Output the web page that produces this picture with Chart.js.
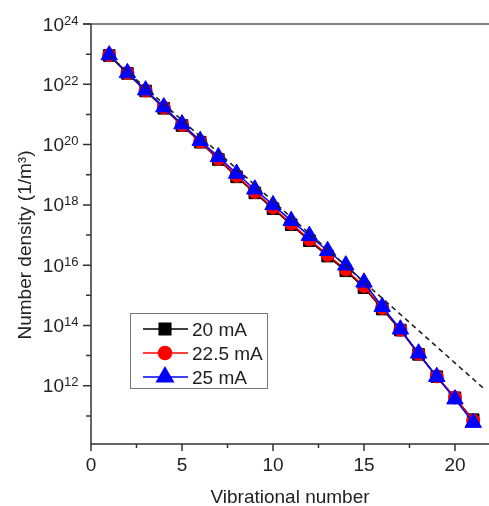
<!DOCTYPE html>
<html>
<head>
<meta charset="utf-8">
<script src="https://cdn.jsdelivr.net/npm/chart.js@4.4.1/dist/chart.umd.min.js"></script>
<style>
  html, body { margin: 0; padding: 0; background: #fff; }
  canvas { display: block; }
</style>
</head>
<body>
<canvas id="chart" width="489" height="506"></canvas>
<script>
// vibrational levels and number densities (1/m^3)
const vibLevels = [1, 2, 3, 4, 5, 6, 7, 8, 9, 10, 11, 12, 13, 14, 15, 16, 17, 18, 19, 20, 21];
const dens20mA = [9.0e22, 2.3e22, 6.0e21, 1.6e21, 4.3e20, 1.2e20, 3.2e19, 8.5e18, 2.5e18, 7.5e17, 2.2e17,
  6.5e16, 2.0e16, 6.5e15, 1.8e15, 3.5e14, 7.0e13, 1.1e13, 2.0e12, 4.0e11, 7.5e10];
const dens22mA = [9.2e22, 2.4e22, 6.2e21, 1.7e21, 4.5e20, 1.25e20, 3.4e19, 9.2e18, 2.7e18, 8.2e17, 2.4e17,
  7.2e16, 2.2e16, 7.2e15, 2.0e15, 3.8e14, 7.2e13, 1.15e13, 2.05e12, 4.1e11, 7.0e10];
const dens25mA = [9.3e22, 2.4e22, 6.4e21, 1.75e21, 4.8e20, 1.35e20, 3.9e19, 1.1e19, 3.3e18, 1.0e18, 3.0e17,
  9.5e16, 3.0e16, 1.0e16, 2.7e15, 4.2e14, 7.5e13, 1.2e13, 2.0e12, 3.6e11, 6.0e10];
// dashed straight fit (endpoints)
const fitLevels = [1, 21.7];
const fitDens = [9.0e22, 7.0e11];

// axis ticks
const xMajorTicks = [0, 5, 10, 15, 20];
const xMinorTicks = [2.5, 7.5, 12.5, 17.5];
const yMajorExps = [12, 14, 16, 18, 20, 22, 24];
const yMinorExps = [11, 13, 15, 17, 19, 21, 23];

const legendLabels = ['20 mA', '22.5 mA', '25 mA'];

const FONT = '"Liberation Sans", Arial, sans-serif';
const AXIS_COLOR = '#333';
const TEXT_COLOR = '#222';

const toPoints = (xs, ys) => xs.map((x, i) => ({ x: x, y: ys[i] }));

const seriesStyle = [
  { color: '#000000', pointStyle: 'rect', radius: 8.2 },
  { color: '#ff0000', pointStyle: 'circle', radius: 6.5 },
  { color: '#0000ff', pointStyle: 'triangle', radius: 9.5 },
];

// axes, tick marks and labels drawn Origin-style
const originAxes = {
  id: 'originAxes',
  beforeDatasetsDraw(chart) {
    const ctx = chart.ctx;
    const xs = chart.scales.x;
    const ys = chart.scales.y;
    const area = chart.chartArea;
    ctx.save();
    ctx.strokeStyle = AXIS_COLOR;
    ctx.lineWidth = 1.5;

    // left axis + bottom axis
    ctx.beginPath();
    ctx.moveTo(area.left, area.top);
    ctx.lineTo(area.left, area.bottom);
    ctx.lineTo(area.right, area.bottom);
    ctx.stroke();
    // top frame line
    ctx.strokeStyle = '#555';
    ctx.beginPath();
    ctx.moveTo(area.left - 8, area.top);
    ctx.lineTo(area.right, area.top);
    ctx.stroke();
    ctx.strokeStyle = AXIS_COLOR;

    ctx.beginPath();
    xMajorTicks.forEach(v => {
      const px = xs.getPixelForValue(v);
      ctx.moveTo(px, area.bottom);
      ctx.lineTo(px, area.bottom + 7);
    });
    xMinorTicks.forEach(v => {
      const px = xs.getPixelForValue(v);
      ctx.moveTo(px, area.bottom);
      ctx.lineTo(px, area.bottom + 4);
    });
    yMajorExps.forEach(e => {
      const py = ys.getPixelForValue(Math.pow(10, e));
      ctx.moveTo(area.left, py);
      ctx.lineTo(area.left - 8, py);
    });
    yMinorExps.forEach(e => {
      const py = ys.getPixelForValue(Math.pow(10, e));
      ctx.moveTo(area.left, py);
      ctx.lineTo(area.left - 5, py);
    });
    ctx.stroke();

    ctx.fillStyle = TEXT_COLOR;
    ctx.font = '19px ' + FONT;
    ctx.textAlign = 'center';
    ctx.textBaseline = 'alphabetic';
    xMajorTicks.forEach(v => {
      ctx.fillText(String(v), xs.getPixelForValue(v), area.bottom + 27);
    });

    yMajorExps.forEach(e => {
      const py = ys.getPixelForValue(Math.pow(10, e));
      ctx.font = '19px ' + FONT;
      ctx.textAlign = 'right';
      ctx.fillText('10', 64, py + 6.5);
      ctx.font = '13px ' + FONT;
      ctx.textAlign = 'left';
      ctx.fillText(String(e), 64, py + 0.5);
    });

    // axis titles
    ctx.font = '19px ' + FONT;
    ctx.textAlign = 'center';
    ctx.fillText('Vibrational number', (area.left + area.right) / 2, 503);
    ctx.save();
    ctx.translate(31, 245);
    ctx.rotate(-Math.PI / 2);
    ctx.fillText('Number density (1/m³)', 0, 0);
    ctx.restore();
    ctx.restore();
  },
  afterDatasetsDraw(chart) {
    const ctx = chart.ctx;
    ctx.save();
    ctx.strokeStyle = '#777';
    ctx.lineWidth = 1;
    ctx.strokeRect(130.5, 313.5, 137, 75);
    const rows = [329, 353, 377];
    rows.forEach((ry, i) => {
      const st = seriesStyle[i];
      ctx.strokeStyle = st.color;
      ctx.lineWidth = 1.5;
      ctx.beginPath();
      ctx.moveTo(143, ry);
      ctx.lineTo(188, ry);
      ctx.stroke();
      ctx.fillStyle = st.color;
      Chart.helpers.drawPoint(ctx, { pointStyle: st.pointStyle, radius: st.radius, borderWidth: 1 }, 165, ry);
      ctx.fill();
      ctx.fillStyle = TEXT_COLOR;
      ctx.font = '19px ' + FONT;
      ctx.textAlign = 'left';
      ctx.textBaseline = 'alphabetic';
      ctx.fillText(legendLabels[i], 192, ry + 7);
    });
    ctx.restore();
  }
};

const seriesData = [dens20mA, dens22mA, dens25mA];
const datasets = seriesData.map((arr, i) => ({
  label: legendLabels[i],
  data: toPoints(vibLevels, arr),
  borderColor: seriesStyle[i].color,
  backgroundColor: seriesStyle[i].color,
  borderWidth: 1.5,
  pointStyle: seriesStyle[i].pointStyle,
  pointRadius: seriesStyle[i].radius,
  pointBorderWidth: 1,
  pointBorderColor: seriesStyle[i].color,
  pointBackgroundColor: seriesStyle[i].color,
  order: 3 - i,
  tension: 0,
}));
datasets.push({
  label: 'fit',
  data: toPoints(fitLevels, fitDens),
  borderColor: '#222',
  borderWidth: 1.6,
  borderDash: [5, 4],
  pointRadius: 0,
  order: 0,
});

new Chart(document.getElementById('chart').getContext('2d'), {
  type: 'line',
  data: { datasets: datasets },
  options: {
    responsive: false,
    animation: false,
    layout: { autoPadding: false, padding: { left: 91, top: 24, right: 0, bottom: 62 } },
    scales: {
      x: { type: 'linear', min: 0, max: 21.87, display: false },
      y: { type: 'logarithmic', min: 1.17e10, max: 1e24, bounds: 'data', display: false },
    },
    plugins: {
      legend: { display: false },
      tooltip: { enabled: false },
    },
  },
  plugins: [originAxes],
});
</script>
</body>
</html>
